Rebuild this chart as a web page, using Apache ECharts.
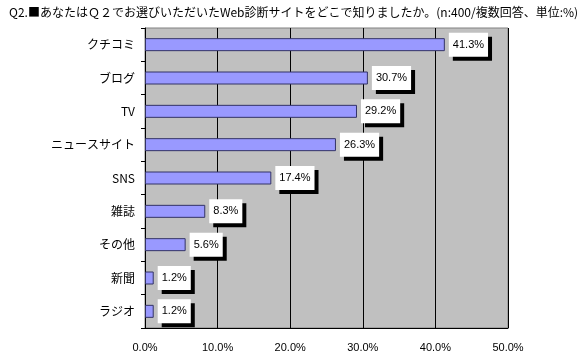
<!DOCTYPE html>
<html><head><meta charset="utf-8">
<script src="https://cdn.jsdelivr.net/npm/echarts@6/dist/echarts.min.js"></script>
<style>html,body{margin:0;padding:0;background:#fff}#c{width:586px;height:355px}</style>
</head><body><div id="c"></div>
<script>
const titleText = 'Q2.■あなたはＱ２でお選びいただいたWeb診断サイトをどこで知りましたか。(n:400/複数回答、単位:%)';
const categories = ['クチコミ','ブログ','TV','ニュースサイト','SNS','雑誌','その他','新聞','ラジオ'];
const values = [41.3, 30.7, 29.2, 26.3, 17.4, 8.3, 5.6, 1.2, 1.2];
const xTicks = [0, 10, 20, 30, 40, 50];

const chart = echarts.init(document.getElementById('c'), null, {renderer:'canvas'});
const font = '"Noto Sans CJK JP", "DejaVu Sans", sans-serif';
chart.setOption({
  animation: false,
  backgroundColor: '#fff',
  title: {
    text: titleText, left: 4, top: 1,
    textStyle: {fontSize: 12, fontWeight: 'normal', color: '#000', fontFamily: font}
  },
  grid: {left: 145, right: 78, top: 28, bottom: 27, show: true, backgroundColor: '#c0c0c0', borderColor: '#808080', borderWidth: 1},
  xAxis: {
    type: 'value', min: xTicks[0], max: xTicks[xTicks.length-1], interval: 10,
    axisLine: {show: true, lineStyle: {color: '#000'}},
    axisTick: {show: false},
    splitLine: {show: true, lineStyle: {color: '#000', width: 1}},
    axisLabel: {formatter: v => v.toFixed(1) + '%', color: '#000', fontSize: 11, fontFamily: 'Arial, "Liberation Sans", sans-serif', margin: 14}
  },
  yAxis: {
    type: 'category', data: categories, inverse: true,
    axisLine: {show: true, lineStyle: {color: '#000'}},
    axisTick: {show: true, length: 4, lineStyle: {color: '#000'}},
    axisLabel: {color: '#000', fontSize: 12, fontFamily: font, margin: 10}
  },
  series: [{
    type: 'bar', data: values, barWidth: 13,
    itemStyle: {color: '#9999ff', borderColor: '#333366', borderWidth: 1},
    label: {
      show: true, position: 'right', distance: 4,
      formatter: p => p.value.toFixed(1) + '%',
      color: '#000', fontSize: 11, fontFamily: 'Arial, "Liberation Sans", sans-serif',
      backgroundColor: '#fff', padding: [7, 4, 6, 4],
      shadowColor: '#000', shadowBlur: 0, shadowOffsetX: 4, shadowOffsetY: 4
    }
  }]
});
</script></body></html>
